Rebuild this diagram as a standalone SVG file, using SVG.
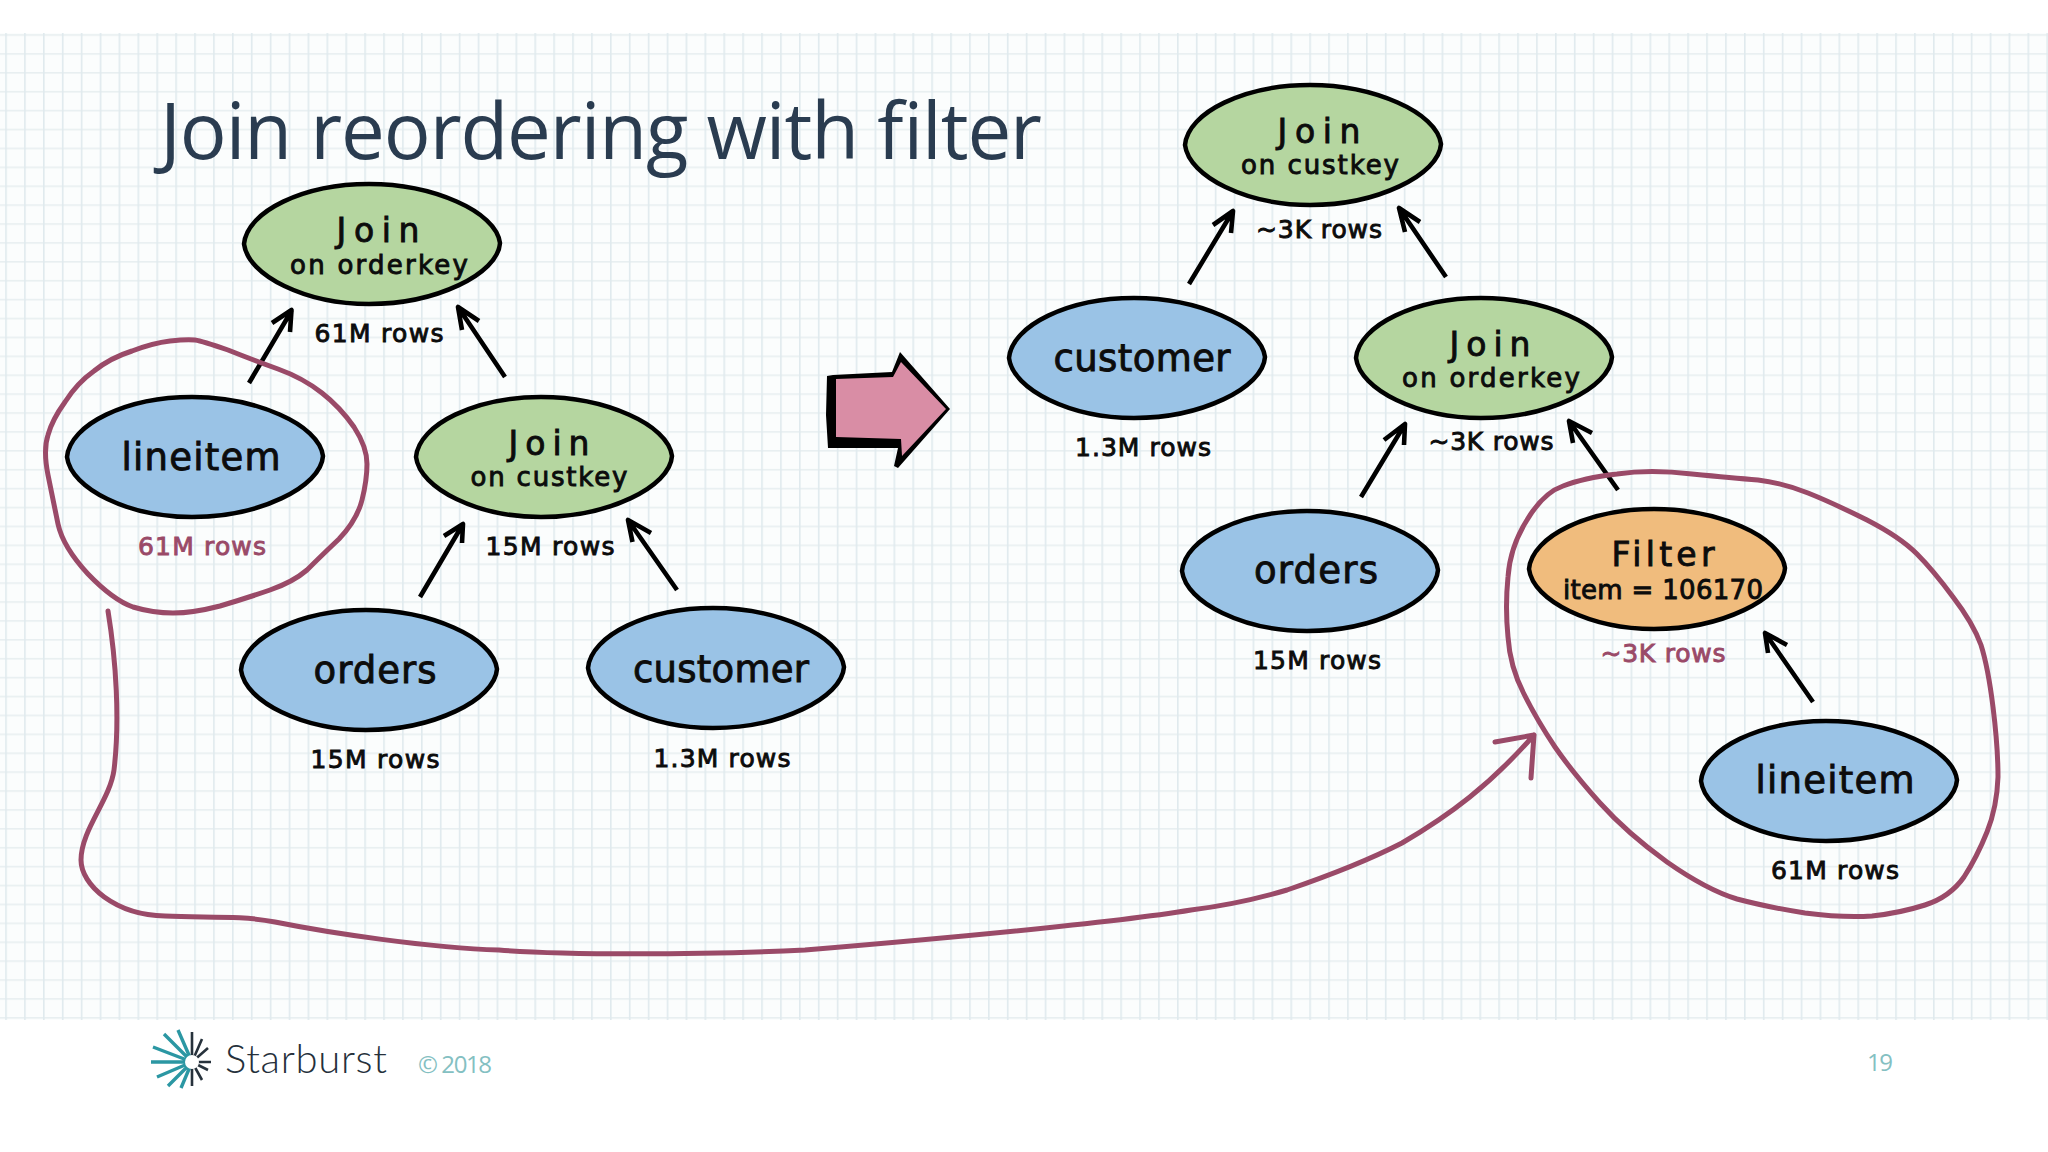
<svg xmlns="http://www.w3.org/2000/svg" width="2048" height="1152" viewBox="0 0 2048 1152">
<style>
.hand{font-family:"DejaVu Sans",sans-serif;fill:#0c0c0c;text-anchor:middle;stroke:#0c0c0c;stroke-width:.9}
.big{font-size:37px}
.join{font-size:33px}
.sub{font-size:26px}
.rows{font-size:25px}
.red{fill:#9a4a68;stroke:#9a4a68}
.blue{fill:#9ac3e6}
.green{fill:#b5d6a0}
.orange{fill:#f0bc7d}
.shape{stroke:#000;stroke-width:4.5;stroke-linejoin:round}
.arrow{fill:none;stroke:#000;stroke-width:4.6;stroke-linecap:butt;stroke-linejoin:round}
.loop{fill:none;stroke:#9a4a68;stroke-width:5;stroke-linecap:round;stroke-linejoin:round}
.foot{font-family:"Open Sans",sans-serif;fill:#84c0c2;font-size:24px}
.ray-t{stroke:#2b97a3;stroke-width:3.4}
.ray-d{stroke:#27323c;stroke-width:2.6}
</style>
<defs>
<pattern id="grid" patternUnits="userSpaceOnUse" x="5.2" y="34.2" width="18.9" height="18.9">
<rect x="0" y="0" width="18.9" height="18.9" fill="#fbfdfd"/>
<rect x="0" y="0" width="18.9" height="1.6" fill="#e8eff1"/>
<rect x="0" y="0" width="1.6" height="18.9" fill="#e0eaee"/>
</pattern>
<path id="lens" d="M-128,0C-125,-33 -68,-60 -3,-60C60,-60 124,-33 128,-1C126,30 64,60 -3,60C-66,60 -124,32 -128,0Z"/>
</defs>
<rect width="2048" height="1152" fill="#fff"/>
<rect x="0" y="33" width="2048" height="987" fill="url(#grid)"/>
<text x="160" y="159" textLength="882" style="font-family:'Open Sans',sans-serif;font-size:78px;fill:#2a3c50">Join reordering with filter</text>

<g id="connectors">
<path class="arrow" d="M249,383L292,310M272,323L291.500,310L290,332"/>
<path class="arrow" d="M505,377L458,307M479,321L458,307L462,330"/>
<path class="arrow" d="M420,597L463,524M444,536L463,524L462,543"/>
<path class="arrow" d="M677,590L628,520M651,533L628,520L632.500,542"/>
<path class="arrow" d="M1189,284L1233,211M1213,225L1233,211L1231,233"/>
<path class="arrow" d="M1446,277L1399,208M1420,222L1399,208L1405,232"/>
<path class="arrow" d="M1361,497L1405,424M1384,440L1405,424L1404,445"/>
<path class="arrow" d="M1618,490L1569,421M1592,433L1569,421L1573,443"/>
<path class="arrow" d="M1813,702L1765,633M1787,645L1765,633L1768,653"/>
<path class="loop" d="M108,611C116,660 120,720 114,770C110,800 81,830 81,860C81,885 115,915 165,916C205,918 240,915 275,922C330,933 430,948 499,950C560,955 700,955 805,950C900,942 1100,925 1191,910C1230,905 1260,898 1287,890C1325,877 1365,862 1402,843C1450,815 1490,785 1534,735M1495,742L1534,735L1531,778"/>
</g>

<g id="loop-left"><path class="loop" d="M228,350Q253,360 278,369Q303,378 322,393Q340,407 354,427Q367,447 367,464Q367,480 362,500Q357,520 339,539Q320,557 307,570Q293,582 270,590Q247,598 220,606Q193,613 173,613Q153,613 133,607Q113,600 88,574Q63,547 58,524Q53,500 48,475Q43,450 48,435Q52,420 65,402Q77,383 94,371Q110,358 132,351Q153,343 170,341Q187,339 195,340Q202,341 228,350Z"/></g>
<g id="loop-right"><path class="loop" d="M1692,474Q1733,478 1758,480Q1783,483 1808,493Q1833,503 1867,520Q1900,537 1917,554Q1933,570 1953,597Q1973,623 1981,645Q1988,667 1993,707Q1998,747 1998,777Q1997,807 1987,832Q1977,857 1964,877Q1950,897 1925,905Q1900,913 1872,916Q1843,918 1805,913Q1767,907 1737,899Q1707,890 1667,862Q1627,833 1600,803Q1573,773 1555,747Q1537,720 1524,694Q1510,667 1508,637Q1505,607 1508,577Q1510,547 1527,520Q1543,493 1563,486Q1583,478 1617,474Q1650,469 1692,474Z"/></g>

<g id="n-join-orderkey-l">
<use href="#lens" x="372" y="244" class="shape green"/>
<text class="hand join" x="378" y="242" textLength="83">Join</text>
<text class="hand sub" x="379" y="274" textLength="178">on orderkey</text>
<text class="hand rows" x="379" y="342" textLength="129">61M rows</text>
</g>
<g id="n-lineitem-l">
<use href="#lens" x="195" y="457" class="shape blue"/>
<text class="hand big" x="201" y="470" textLength="159">lineitem</text>
<text class="hand rows red" x="202" y="555" textLength="128">61M rows</text>
</g>
<g id="n-join-custkey-l">
<use href="#lens" x="544" y="457" class="shape green"/>
<text class="hand join" x="549" y="455" textLength="81">Join</text>
<text class="hand sub" x="549" y="486" textLength="157">on custkey</text>
<text class="hand rows" x="550" y="555" textLength="129">15M rows</text>
</g>
<g id="n-orders-l">
<use href="#lens" x="369" y="670" class="shape blue"/>
<text class="hand big" x="375" y="683" textLength="123">orders</text>
<text class="hand rows" x="375" y="768" textLength="129">15M rows</text>
</g>
<g id="n-customer-l">
<use href="#lens" x="716" y="668" class="shape blue"/>
<text class="hand big" x="721" y="682" textLength="176">customer</text>
<text class="hand rows" x="722" y="767" textLength="137">1.3M rows</text>
</g>
<g id="n-join-custkey-r">
<use href="#lens" x="1313" y="145" class="shape green"/>
<text class="hand join" x="1319" y="143" textLength="83">Join</text>
<text class="hand sub" x="1320" y="174" textLength="158">on custkey</text>
<text class="hand rows" x="1319" y="238" textLength="126">~3K rows</text>
</g>
<g id="n-customer-r">
<use href="#lens" x="1137" y="358" class="shape blue"/>
<text class="hand big" x="1142" y="371" textLength="177">customer</text>
<text class="hand rows" x="1143" y="456" textLength="136">1.3M rows</text>
</g>
<g id="n-join-orderkey-r">
<use href="#lens" x="1484" y="358" class="shape green"/>
<text class="hand join" x="1490" y="356" textLength="81">Join</text>
<text class="hand sub" x="1491" y="387" textLength="178">on orderkey</text>
<text class="hand rows" x="1491" y="450" textLength="125">~3K rows</text>
</g>
<g id="n-orders-r">
<use href="#lens" x="1310" y="571" class="shape blue"/>
<text class="hand big" x="1316" y="583" textLength="124">orders</text>
<text class="hand rows" x="1317" y="669" textLength="128">15M rows</text>
</g>
<g id="n-filter">
<use href="#lens" x="1657" y="569" class="shape orange"/>
<text class="hand join" x="1663" y="566" textLength="103">Filter</text>
<text class="hand sub" x="1663" y="599" textLength="200">item = 106170</text>
<text class="hand rows red" x="1663" y="662" textLength="125">~3K rows</text>
</g>
<g id="n-lineitem-r">
<use href="#lens" x="1829" y="781" class="shape blue"/>
<text class="hand big" x="1835" y="793" textLength="159">lineitem</text>
<text class="hand rows" x="1835" y="879" textLength="128">61M rows</text>
</g>

<g id="big-arrow">
<polygon fill="#000" points="827,376 833,375 892,372 900,352 950,409 898,468 894,466 898,448 828,448 826,415"/>
<polygon fill="#d98da5" points="836,379 893,377 901,362 946,409 902,456 901,439 836,437"/>
</g>

<g id="logo">
<path class="ray-t" d="M192,1062L151,1062M192,1062L157,1077M192,1062L168,1086M192,1062L181,1088M192,1062L153,1047M192,1062L164,1034M192,1062L178,1030"/>
<path class="ray-d" d="M192,1062L192,1032M192,1062L202,1039M192,1062L208,1048M192,1062L211,1062M192,1062L208,1070M192,1062L202,1080M192,1062L192,1086"/>
<circle cx="192" cy="1062" r="7" fill="#fff"/>
<text x="225" y="1073" textLength="162" style="font-family:Lato,sans-serif;font-size:40px;font-weight:300;fill:#25303b">Starburst</text>
</g>
<text class="foot" x="418" y="1073" textLength="74">© 2018</text>
<text class="foot" x="1867" y="1071" textLength="26">19</text>
</svg>
